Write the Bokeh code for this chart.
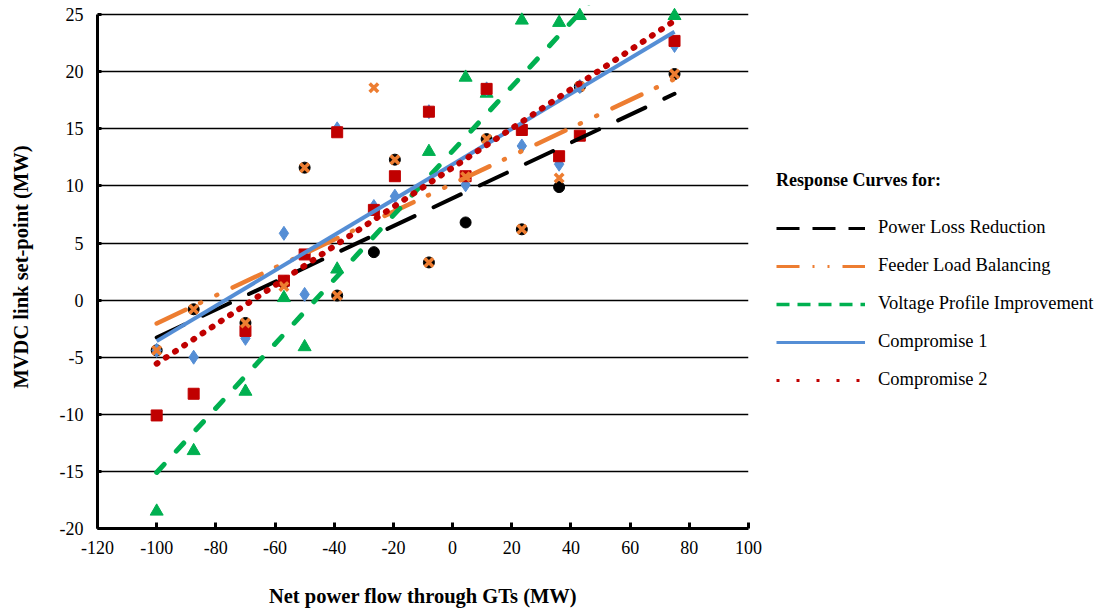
import numpy as np
from bokeh.plotting import figure
from bokeh.layouts import row
from bokeh.models import Range1d, FixedTicker, Legend, LegendItem, ColumnDataSource
from bokeh.embed import file_html
from bokeh.resources import INLINE

# ---------------- data ----------------
net_flow = [-100, -87.5, -70, -57, -50, -39, -26.6, -19.5, -8, 4.4, 11.5, 23.4, 36, 43, 75]
power_loss = [-4.4, -0.8, -2.0, 1.5, 11.6, 0.4, 4.2, 12.3, 3.3, 6.8, 14.1, 6.2, 9.9, 18.7, 19.8]
feeder_bal = [-4.4, -0.8, -2.0, 1.2, 11.6, 0.4, 18.6, 12.3, 3.3, 10.8, 14.1, 6.2, 10.7, 18.7, 19.8]
voltage_prof = [-18.5, -13.2, -8.0, 0.2, -4.1, 2.7, np.nan, np.nan, 13.0, 19.5, 18.1, 24.5, 24.3, 24.9, 24.9]
compromise1 = [-4.4, -5.0, -3.35, 5.85, 0.5, 15.0, 8.2, 9.1, 16.5, 10.1, 18.5, 13.5, 11.9, 18.7, 22.3]
compromise2 = [-10.1, -8.2, -2.7, 1.7, 4.0, 14.7, 7.9, 10.85, 16.5, 10.85, 18.5, 14.9, 12.6, 14.4, 22.7]

legend_labels = ["Power Loss Reduction", "Feeder Load Balancing", "Voltage Profile Improvement",
                 "Compromise 1", "Compromise 2"]
x_ticks = list(range(-120, 101, 20))
y_ticks = list(range(-20, 26, 5))

FONT = "Liberation Serif"
BLACK, ORANGE, GREEN, BLUE, RED = "#000000", "#ED7D31", "#00B050", "#558ED5", "#C00000"

# y range extends slightly above 25 so the top markers are not clipped;
# the axis line itself stops at 25 (bounds)
p = figure(frame_width=651, frame_height=523, min_border_left=97, min_border_right=20,
           min_border_top=5, min_border_bottom=84, output_backend="svg", toolbar_location=None,
           x_range=Range1d(-120, 100), y_range=Range1d(-20, 25.8))
p.outline_line_color = None
p.background_fill_color = "white"
p.border_fill_color = "white"

p.xgrid.visible = False
p.ygrid.grid_line_color = "black"
p.ygrid.grid_line_width = 1.5
p.ygrid.ticker = FixedTicker(ticks=y_ticks)

p.xaxis.ticker = FixedTicker(ticks=x_ticks)
p.yaxis.ticker = FixedTicker(ticks=y_ticks)
p.yaxis.bounds = (-20, 25)
p.xaxis.major_label_overrides = {t: str(t) for t in x_ticks}
p.yaxis.major_label_overrides = {t: str(t) for t in y_ticks}
p.xaxis.minor_tick_line_color = None
p.yaxis.minor_tick_line_color = None
for ax in (p.xaxis, p.yaxis):
    ax.axis_line_width = 3
    ax.axis_line_color = "black"
    ax.major_tick_line_width = 3
    ax.major_tick_out = 0
    ax.major_label_text_font = FONT
    ax.major_label_text_font_size = "18px"
    ax.major_label_text_color = "black"
    ax.axis_label_text_font = FONT
    ax.axis_label_text_font_style = "bold"
    ax.axis_label_text_font_size = "20.5px"
    ax.axis_label_text_color = "black"
p.xaxis.major_tick_in = 6
p.yaxis.major_tick_in = 4
p.xaxis.major_label_standoff = 12
p.yaxis.major_label_standoff = 14
p.xaxis.axis_label = "Net power flow through GTs (MW)"
p.yaxis.axis_label = "MVDC link set-point (MW)"
p.xaxis.axis_label_standoff = 28
p.yaxis.axis_label_standoff = 25

x = np.array(net_flow, dtype=float)

# ---------------- markers ----------------
def pts(y):
    y = np.array(y, dtype=float)
    m = ~np.isnan(y)
    return ColumnDataSource(dict(x=x[m], y=y[m]))

p.scatter("x", "y", source=pts(power_loss), marker="circle", size=11, color=BLACK)
p.scatter("x", "y", source=pts(voltage_prof), marker="triangle", size=13, color=GREEN)
p.scatter("x", "y", source=pts(compromise1), marker="diamond", size=14, color=BLUE)
p.scatter("x", "y", source=pts(compromise2), marker="square", size=11, color=RED)
p.scatter("x", "y", source=pts(feeder_bal), marker="x", size=12, line_color=ORANGE, line_width=3.5)

# ---------------- linear trend lines ----------------
def trend(y):
    y = np.array(y, dtype=float)
    m = ~np.isnan(y)
    k, b = np.polyfit(x[m], y[m], 1)
    xs = np.array([x[m].min(), x[m].max()])
    return xs, k * xs + b

specs = [
    (power_loss, dict(line_color=BLACK, line_width=4, line_dash="30 21", line_cap="round")),
    (feeder_bal, dict(line_color=ORANGE, line_width=4.5, line_dash="32 16 1 17 1 17", line_cap="round")),
    (voltage_prof, dict(line_color=GREEN, line_width=5, line_dash="11 18", line_cap="round")),
    (compromise1, dict(line_color=BLUE, line_width=4)),
    (compromise2, dict(line_color=RED, line_width=6, line_dash="1 10", line_cap="round")),
]
for ys, st in specs:
    xs, yy = trend(ys)
    p.line(xs, yy, **st)

# ---------------- legend panel (second figure, same height) ----------------
p2 = figure(frame_width=336, frame_height=523, min_border_left=0, min_border_right=0,
            min_border_top=5, min_border_bottom=84, output_backend="svg", toolbar_location=None,
            x_axis_location=None, y_axis_location=None,
            x_range=Range1d(0, 1), y_range=Range1d(0, 1))
p2.outline_line_color = None
p2.grid.visible = False
p2.background_fill_color = "white"
p2.border_fill_color = "white"

leg_styles = [
    dict(line_color=BLACK, line_width=3, line_dash="23 13"),
    dict(line_color=ORANGE, line_width=3, line_dash="23 13 2 13 2 13"),
    dict(line_color=GREEN, line_width=3.5, line_dash="13 8"),
    dict(line_color=BLUE, line_width=3),
    dict(line_color=RED, line_width=3, line_dash="3 17"),
]
items = []
for lab, st in zip(legend_labels, leg_styles):
    r = p2.line(x=np.array([np.nan]), y=np.array([np.nan]), **st)
    items.append(LegendItem(label=lab, renderers=[r]))

legend = Legend(items=items, location=(8, 138), title="Response Curves for:",
                title_text_font=FONT, title_text_font_style="bold", title_text_font_size="18px",
                title_text_color="black", title_standoff=26,
                label_text_font=FONT, label_text_font_size="18.5px",
                label_text_color="black", glyph_width=89, glyph_height=20, label_height=20,
                spacing=17, label_standoff=13, padding=0, margin=0,
                background_fill_alpha=0, border_line_alpha=0)
p2.add_layout(legend, "center")

layout = row(p, p2, spacing=0)
open("out.html", "w").write(file_html(layout, INLINE))
